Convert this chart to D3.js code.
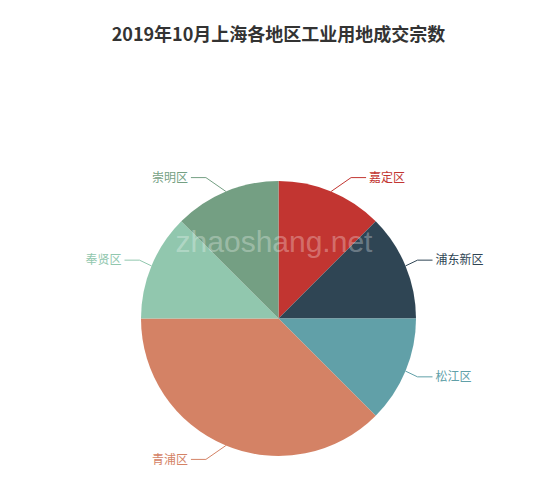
<!DOCTYPE html>
<html>
<head>
<meta charset="utf-8">
<script src="https://cdn.jsdelivr.net/npm/d3@7"></script>
<style>
  body { margin: 0; background: #fff; }
  svg { display: block; }
</style>
</head>
<body>
<svg id="chart" width="550" height="490"></svg>
<script>
// data: each of 8 deals, 青浦区 holds 3
var regions = ["嘉定区", "浦东新区", "松江区", "青浦区", "奉贤区", "崇明区"]
var counts = [1, 1, 1, 3, 1, 1]
var colors = ["#c23531", "#2f4554", "#61a0a8", "#d48265", "#91c7ae", "#749f83"]

var WIDTH = 550
var CX = 278.5
var CY = 318.5
var RADIUS = 137.5
var LEN = 15   // first label line segment
var LEN2 = 15  // horizontal label line segment

var svg = d3.select("#chart")

svg.append("text")
  .attr("x", CX)
  .attr("y", 41)
  .attr("text-anchor", "middle")
  .attr("font-family", "'Noto Sans CJK SC', sans-serif")
  .attr("font-size", 18)
  .attr("font-weight", "bold")
  .attr("fill", "#333")
  .text("2019年10月上海各地区工业用地成交宗数")

var slices = d3.pie().sort(null)(counts.map(function(v, i) {
  return { name: regions[i], value: v, color: colors[i] }
}).map(function(d) { return d.value }))

var data = slices.map(function(s, i) {
  return { name: regions[i], color: colors[i], slice: s }
})

var arc = d3.arc().innerRadius(0).outerRadius(RADIUS)

var g = svg.append("g").attr("transform", "translate(" + CX + "," + CY + ")")

g.selectAll(".slice")
  .data(data)
  .enter().append("path")
  .attr("class", "slice")
  .attr("d", function(d) { return arc(d.slice) })
  .attr("fill", function(d) { return d.color })

// label placement in the usual pie style: the text sits on a circle of
// radius r + len + len2, at the height of the elbow
function labelLayout(d) {
  var mid = (d.slice.startAngle + d.slice.endAngle) / 2
  var sx = Math.sin(mid), sy = -Math.cos(mid)
  var dir = sx < 0 ? -1 : 1
  var y = (RADIUS + LEN) * sy
  var R3 = RADIUS + LEN + LEN2
  var tx = dir * Math.sqrt(R3 * R3 - y * y)
  var lineEnd = tx - dir * 3
  var elbow = lineEnd - dir * LEN2
  return {
    dir: dir,
    points: [[RADIUS * sx, RADIUS * sy], [elbow, y], [lineEnd, y]],
    tx: tx,
    ty: y
  }
}

data.forEach(function(d) { d.label = labelLayout(d) })

g.selectAll(".label-line")
  .data(data)
  .enter().append("polyline")
  .attr("class", "label-line")
  .attr("points", function(d) { return d.label.points.map(function(p) { return p.join(",") }).join(" ") })
  .attr("fill", "none")
  .attr("stroke", function(d) { return d.color })
  .attr("stroke-width", 1)

g.selectAll(".label")
  .data(data)
  .enter().append("text")
  .attr("class", "label")
  .attr("x", function(d) { return d.label.tx })
  .attr("y", function(d) { return d.label.ty })
  .attr("dy", "0.35em")
  .attr("text-anchor", function(d) { return d.label.dir < 0 ? "end" : "start" })
  .attr("font-family", "'Noto Sans CJK SC', sans-serif")
  .attr("font-size", 12)
  .attr("fill", function(d) { return d.color })
  .text(function(d) { return d.name })

// watermark over the pie
svg.append("text")
  .attr("x", 274)
  .attr("y", 252)
  .attr("text-anchor", "middle")
  .attr("font-family", "'Liberation Sans', Arial, sans-serif")
  .attr("font-size", 30)
  .attr("fill", "#fff")
  .attr("fill-opacity", 0.3)
  .text("zhaoshang.net")
</script>
</body>
</html>
